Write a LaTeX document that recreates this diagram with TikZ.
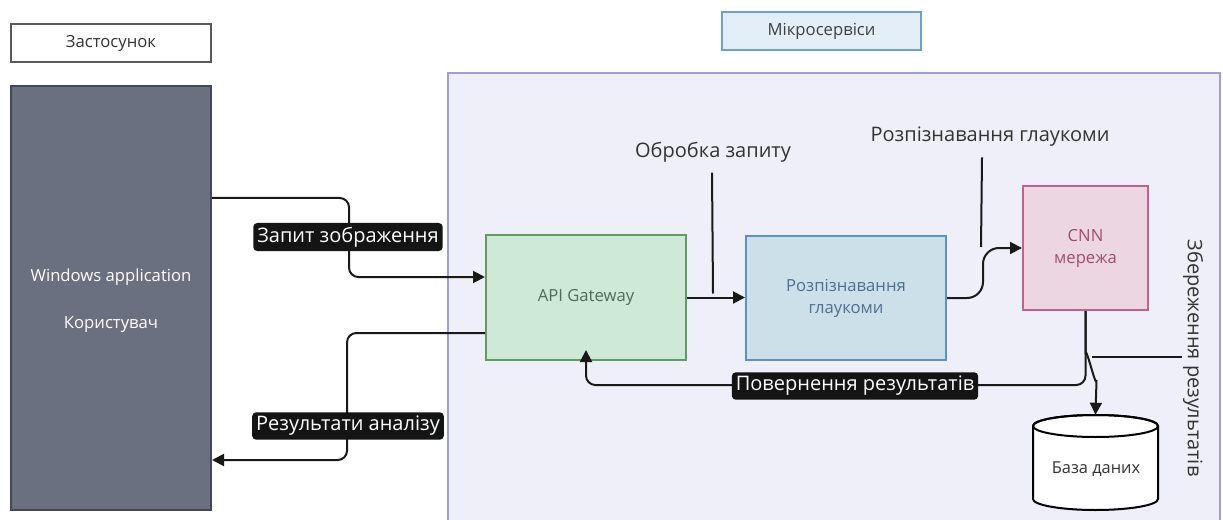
\documentclass[tikz,border=0pt]{standalone}
\usepackage{fontspec}
\setmainfont{Open Sans}
\usetikzlibrary{arrows.meta,calc}
\definecolor{winfill}{HTML}{6B7080}
\definecolor{windraw}{HTML}{434756}
\definecolor{msfill}{HTML}{EFEFF9}
\definecolor{msdraw}{HTML}{9D9DE3}
\definecolor{mslfill}{HTML}{E4EEF6}
\definecolor{msldraw}{HTML}{6FA0D0}
\definecolor{apifill}{HTML}{CEE9D6}
\definecolor{apidraw}{HTML}{5E9C64}
\definecolor{apitext}{HTML}{4E6D55}
\definecolor{rgfill}{HTML}{CCE0EA}
\definecolor{rgdraw}{HTML}{5E90C6}
\definecolor{rgtext}{HTML}{4F6F8C}
\definecolor{cnnfill}{HTML}{ECD6E2}
\definecolor{cnndraw}{HTML}{C0628D}
\definecolor{cnntext}{HTML}{A04C6E}
\definecolor{txt}{HTML}{333333}
\tikzset{
  boxnode/.style={draw, line width=1.5pt, inner sep=0pt, align=center, font=\fontsize{12.5}{16.5}\selectfont},
  edge/.style={line width=1.5pt, draw=black!90, rounded corners=7pt, -{Triangle[length=9pt,width=9pt]}},
  leader/.style={line width=1.5pt, draw=black!90},
  lbl/.style={fill=black!92, text=white, rounded corners=3pt, inner sep=3pt, font=\fontsize{15}{18}\selectfont},
  freelbl/.style={text=txt, inner sep=1pt, font=\fontsize{15}{18}\selectfont}
}
\begin{document}
\begin{tikzpicture}[x=0.75pt,y=-0.75pt]
\useasboundingbox (0,0) rectangle (1223,520);
% container
\path[fill=msfill, draw=msdraw, line width=1.5pt] (448,73) rectangle (1220,524);
% headers
\node[boxnode, fill=white, draw=black!65, text=txt, minimum width=150pt, minimum height=28.5pt] (zast) at (111,43) {Застосунок};
\node[boxnode, fill=mslfill, draw=msldraw, text=black!75, minimum width=149pt, minimum height=28.5pt] (msl) at (821.5,31) {Мікросервіси};
% windows app
\node[boxnode, fill=winfill, draw=windraw, minimum width=150pt, minimum height=318pt] (win) at (111,298) {};
\node[text=white, inner sep=0pt, align=center, font=\fontsize{12.5}{35}\selectfont] (wint) at (111,301) {Windows application\\Користувач};
% services
\node[boxnode, fill=apifill, draw=apidraw, text=apitext, minimum width=150pt, minimum height=93.75pt] (api) at (586,297.5) {API Gateway};
\node[boxnode, fill=rgfill, draw=rgdraw, text=rgtext, minimum width=150pt, minimum height=93pt] (rg) at (846,298) {Розпізнавання\\глаукоми};
\node[boxnode, fill=cnnfill, draw=cnndraw, text=cnntext, minimum width=93.75pt, minimum height=93pt] (cnn) at (1085.5,248) {CNN\\мережа};
% database cylinder
\draw[fill=white, line width=1.5pt] (1033,426) -- (1033,499) arc[start angle=180, end angle=0, x radius=62.5, y radius=11] -- (1158,426) arc[start angle=0, end angle=-180, x radius=62.5, y radius=11] -- cycle;
\draw[line width=1.5pt] (1095.5,426) ellipse[x radius=62.5, y radius=11];
\node[inner sep=0pt, minimum width=94pt, minimum height=72pt] (db) at (1095.5,463) {};
\node[text=txt, inner sep=0pt, font=\fontsize{12.3}{14}\selectfont] (dbt) at (1096,469) {База даних};
% edge 1
\draw[edge] ($(win.east)+(0,-100)$) -- ++(137,0) -- ++(0,79) -- ($(api.west)+(0,-20.5)$);
\node[lbl] (l1) at (348,237) {Запит зображення};
% edge 2
\draw[edge] ($(api.west)+(0,35.5)$) -- ++(-138,0) -- ++(0,127) -- ($(win.east)+(0,162)$);
\node[lbl] (l2) at (348,426) {Результати аналізу};
% edge 3
\draw[edge] (api.east) -- (api.east -| rg.west);
\node[freelbl] (ob) at (713,152) {Обробка запиту};
\draw[leader] ($(ob.south)+(-1,9)$) -- ($(api.east)+(26,-4)$);
% edge 4
\draw[edge, rounded corners=12pt] (rg.east) -- ++(36,0) -- ++(0,-50) -- (cnn.west);
\node[freelbl] (rgl) at (990,137) {Розпізнавання глаукоми};
\draw[leader] ($(rgl.south)+(-8,9)$) -- ($(cnn.west)+(-41,-1)$);
% edge 5
\coordinate (ret) at (0,385);
\draw[edge] (cnn.south) -- (cnn.south |- ret) -- (api.south |- ret) -- ($(api.south)+(0,-11)$);
\node[lbl] (l5) at (855,386) {Повернення результатів};
% edge 6
\draw[edge, rounded corners=0pt] (cnn.south) -- ++(0,43) to[out=90,in=-90] ++(11,26) -- (db.north);
\draw[leader] ($(cnn.south)+(6.5,46)$) -- ++(90,0);
\node[freelbl, rotate=-90] (sv) at (1193,358) {Збереження результатів};
\end{tikzpicture}
\end{document}
